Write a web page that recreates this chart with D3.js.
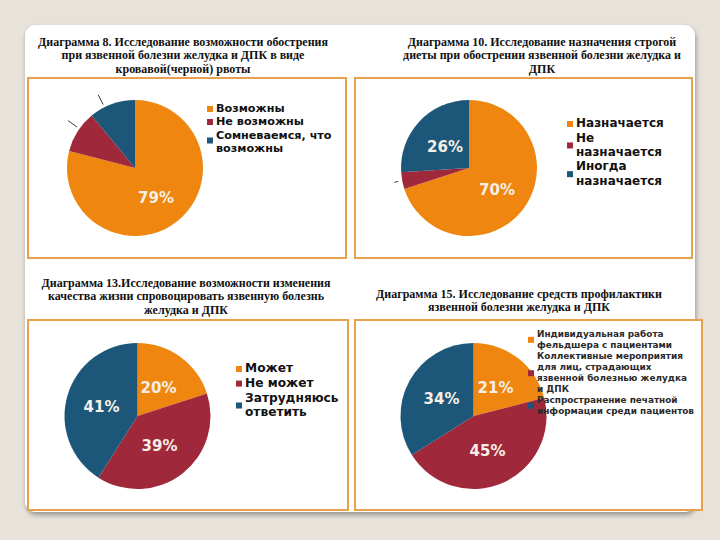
<!DOCTYPE html>
<html><head><meta charset="utf-8">
<script src="https://cdn.jsdelivr.net/npm/d3@7/dist/d3.min.js"></script>
<style>body{margin:0;background:#e7e2da;}svg{display:block;}</style>
</head><body>
<script>
// ---- data ----
const titles1 = ["Диаграмма 8. Исследование возможности обострения","при язвенной болезни желудка и ДПК в виде","кровавой(черной) рвоты"];
const cats1 = ["Возможны","Не возможны","Сомневаемся, что возможны"];
const vals1 = [79, 10, 11];
const labels1 = ["79%", "", ""];

const titles2 = ["Диаграмма 10. Исследование назначения строгой","диеты при обострении язвенной болезни желудка и","ДПК"];
const cats2 = ["Назначается","Не назначается","Иногда назначается"];
const vals2 = [70, 4, 26];
const labels2 = ["70%", "", "26%"];

const titles3 = ["Диаграмма 13.Исследование возможности изменения","качества жизни спровоцировать язвенную болезнь","желудка и ДПК"];
const cats3 = ["Может","Не может","Затрудняюсь ответить"];
const vals3 = [20, 39, 41];
const labels3 = ["20%", "39%", "41%"];

const titles4 = ["Диаграмма 15. Исследование средств профилактики","язвенной болезни желудка и ДПК"];
const cats4 = ["Индивидуальная работа фельдшера с пациентами","Коллективные мероприятия для лиц, страдающих язвенной болезнью желудка и ДПК","Распространение печатной информации среди пациентов"];
const vals4 = [21, 45, 34];
const labels4 = ["21%", "45%", "34%"];

const colors = ["#ee860f", "#a0283b", "#1c5779"];

// ---- drawing ----
const svg = d3.select("body").append("svg").attr("width",720).attr("height",540);
const defs = svg.append("defs");
const f = defs.append("filter").attr("id","sh").attr("x","-5%").attr("y","-5%").attr("width","110%").attr("height","110%");
f.append("feDropShadow").attr("dx",1).attr("dy",3).attr("stdDeviation",2.5).attr("flood-color","#000").attr("flood-opacity",0.35);

svg.append("rect").attr("x",25).attr("y",25).attr("width",670).attr("height",487).attr("rx",11)
  .attr("fill","#fff").attr("filter","url(#sh)");

const color = d3.scaleOrdinal().range(colors);

function drawChart(cfg){
  const g = svg.append("g");
  const t = g.append("text").attr("font-family","Liberation Serif, Times New Roman, serif")
    .attr("font-weight","bold").attr("font-size",12).attr("fill","#111").attr("text-anchor","middle");
  cfg.titles.forEach((s,i)=>t.append("tspan").attr("x",cfg.tx).attr("y",cfg.ty + i*13.3).text(s));
  g.append("rect").attr("x",cfg.box[0]).attr("y",cfg.box[1]).attr("width",cfg.box[2]-cfg.box[0]).attr("height",cfg.box[3]-cfg.box[1])
    .attr("fill","#fff").attr("stroke","#e9a04c").attr("stroke-width",2);
  const pie = d3.pie().sort(null).value(d=>d.v)(cfg.vals.map((v,i)=>({v, c:cfg.cats[i], l:cfg.labels[i]})));
  const arc = d3.arc().innerRadius(0).outerRadius(cfg.r);
  const pg = g.append("g").attr("transform",`translate(${cfg.cx},${cfg.cy})`);
  pg.selectAll("path").data(pie).join("path").attr("d",arc).attr("fill",(d,i)=>color(i));
  pg.selectAll("text.lbl").data(pie).join("text").attr("class","lbl")
    .attr("transform",(d,i)=>`translate(${cfg.lpos[i][0]},${cfg.lpos[i][1]})`)
    .attr("text-anchor","middle").attr("dy","0.36em")
    .attr("font-family","DejaVu Sans, sans-serif").attr("font-weight","bold").attr("font-size",cfg.lfs)
    .attr("fill","#f7efe6").text(d=>d.data.l);
  (cfg.leaders||[]).forEach(L=>{
    const a = pie[L.i]; const mid=(a.startAngle+a.endAngle)/2 + (L.da||0);
    const p1=[Math.sin(mid)*(cfg.r+L.r0), -Math.cos(mid)*(cfg.r+L.r0)];
    const p2=[Math.sin(mid)*(cfg.r+L.r1), -Math.cos(mid)*(cfg.r+L.r1)];
    pg.append("line").attr("x1",p1[0]).attr("y1",p1[1]).attr("x2",p2[0]).attr("y2",p2[1])
      .attr("stroke","#222").attr("stroke-width",0.9);
  });
  const lg = g.append("g").attr("font-family","DejaVu Sans, sans-serif").attr("font-weight","bold")
    .attr("font-size",cfg.fs).attr("fill",cfg.lcol||"#111");
  cfg.legend.forEach((item,i)=>{
    const lines=item.lines;
    const y0=item.y;
    lines.forEach((s,j)=>lg.append("text").attr("x",cfg.legx+cfg.sq+3).attr("y",y0+j*cfg.lh).attr("dy","0.36em").text(s));
    const ym = y0 + (lines.length-1)*cfg.lh/2 + (item.sqoff||0);
    lg.append("rect").attr("x",cfg.legx).attr("y",ym-cfg.sq/2+1).attr("width",cfg.sq).attr("height",cfg.sq).attr("fill",color(i));
  });
}

drawChart({titles:titles1, tx:183, ty:46, box:[28,78,346,258], cx:135, cy:168, r:68, vals:vals1, cats:cats1, labels:labels1,
  lpos:[[21,30],[0,0],[0,0]], lfs:15,
  leaders:[{i:1, r0:3, r1:14, da:0.05},{i:2, r0:3, r1:14, da:-0.12}],
  legx:207, sq:6, fs:11.2, lh:13,
  legend:[{lines:[cats1[0]],y:108},{lines:[cats1[1]],y:121},{lines:["Сомневаемся, что","возможны"],y:135,sqoff:-2}]});

drawChart({titles:titles2, tx:542, ty:46, box:[355,78,692,258], cx:469, cy:168, r:68, vals:vals2, cats:cats2, labels:labels2,
  lpos:[[28,22],[0,0],[-24,-21]], lfs:15,
  leaders:[{i:1, r0:4, r1:8}],
  legx:567, sq:6, fs:12, lh:14.3,
  legend:[{lines:["Назначается"],y:123},{lines:["Не","назначается"],y:137.3},{lines:["Иногда","назначается"],y:166}]});

drawChart({titles:titles3, tx:186, ty:287, box:[28,320,348,510], cx:137.5, cy:416, r:73, vals:vals3, cats:cats3, labels:labels3,
  lpos:[[21,-28],[22,30],[-36,-9]], lfs:15,
  legx:236, sq:6, fs:12.2, lh:14.6,
  legend:[{lines:["Может"],y:368},{lines:["Не может"],y:382.6},{lines:["Затрудняюсь","ответить"],y:397.2,sqoff:0}]});

drawChart({titles:titles4, tx:519, ty:298, box:[355,320,702,510], cx:473.5, cy:416, r:73, vals:vals4, cats:cats4, labels:labels4,
  lpos:[[22,-28],[14,35],[-32,-17]], lfs:15,
  legx:528, sq:6, fs:8.9, lh:11, lcol:"#2a2a2a",
  legend:[{lines:["Индивидуальная работа","фельдшера с пациентами"],y:333.3},
          {lines:["Коллективные мероприятия","для лиц, страдающих","язвенной болезнью желудка","и ДПК"],y:355.7},
          {lines:["Распространение печатной","информации среди пациентов"],y:399.3}]});
</script>
</body></html>
